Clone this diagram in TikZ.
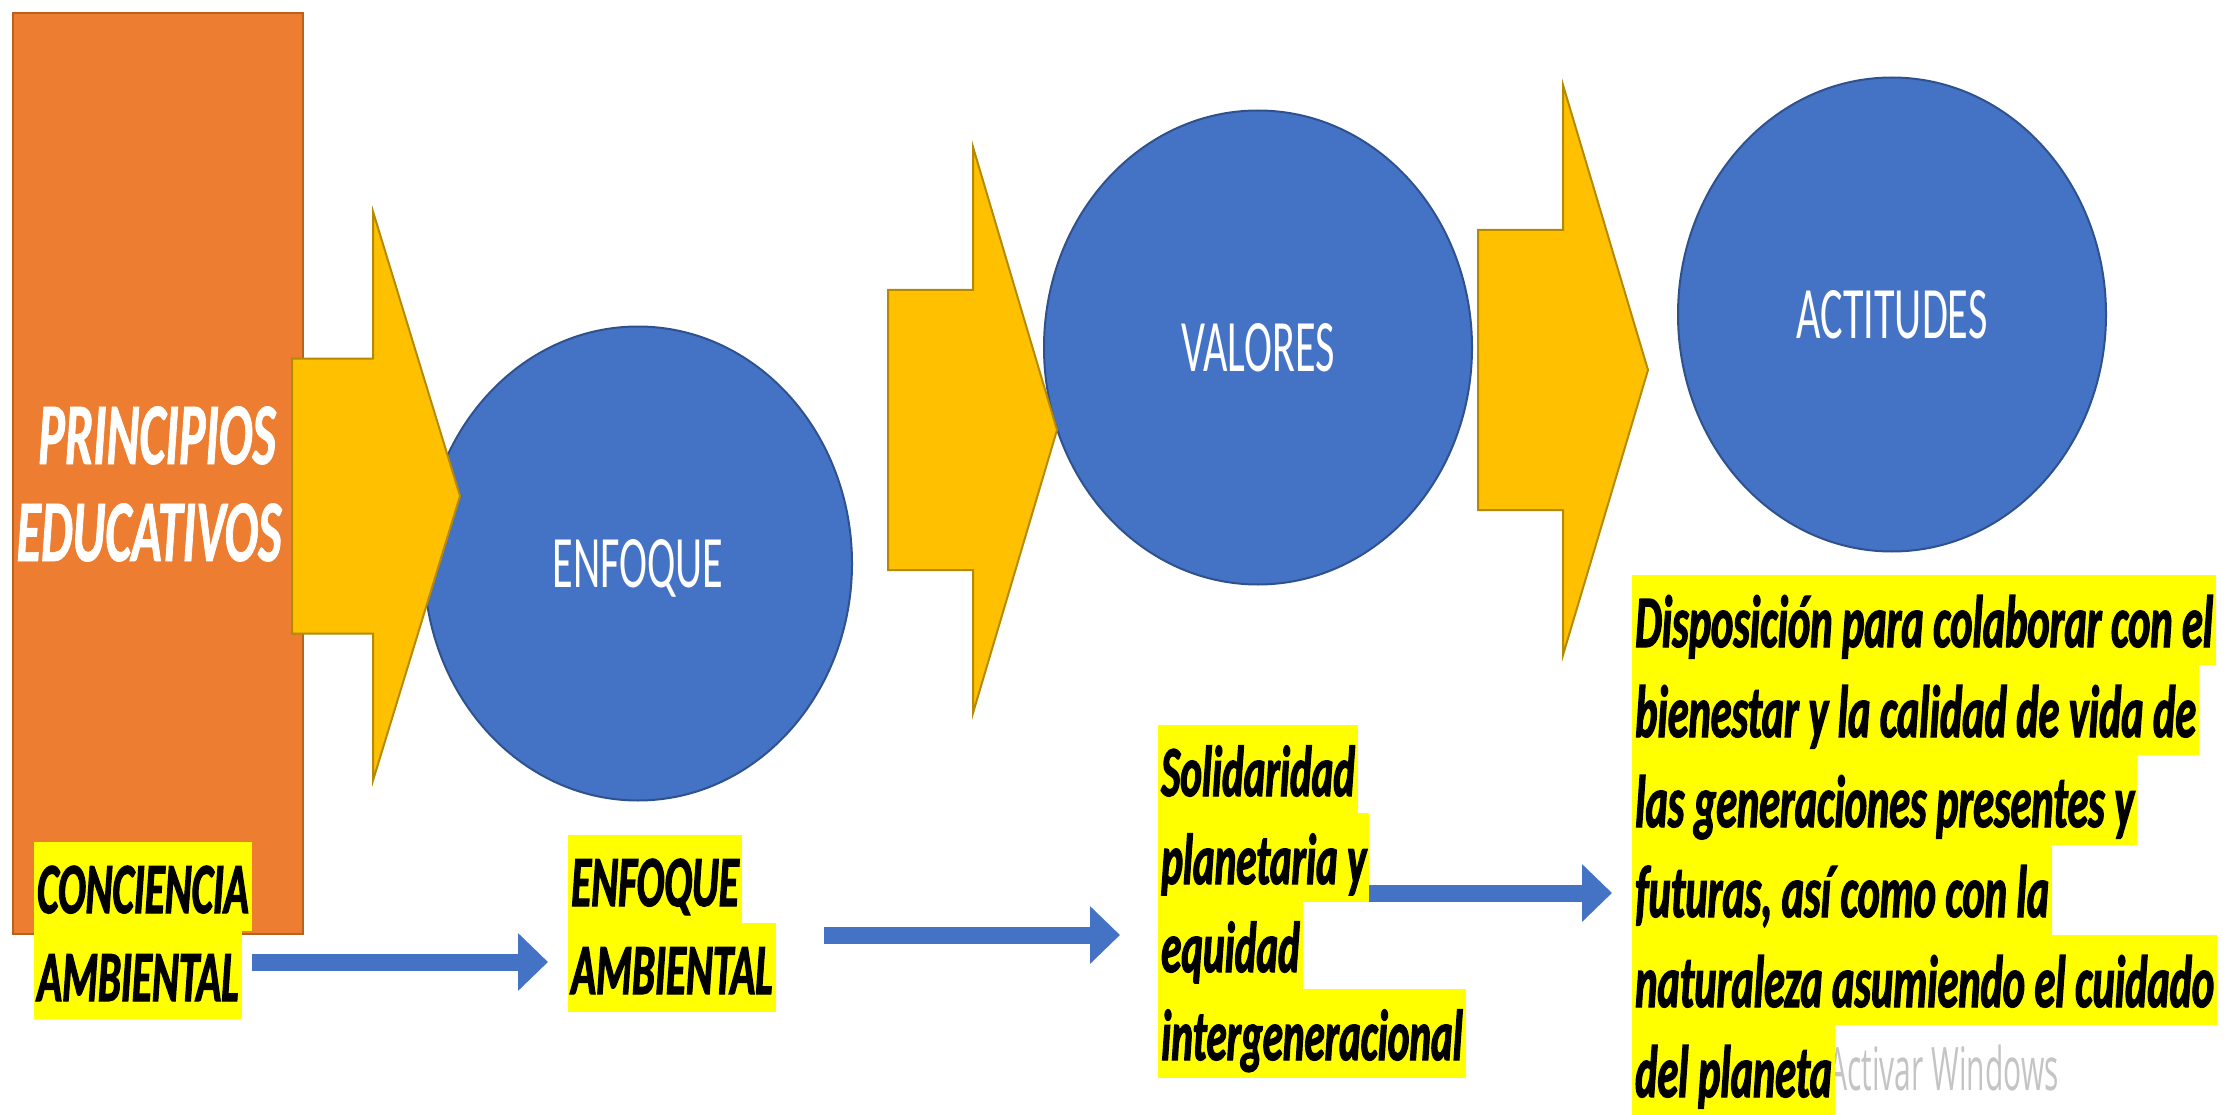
\documentclass[tikz,border=0pt]{standalone}
\usepackage{fontspec}
\setmainfont{Carlito}
\newfontfamily\lblfont[FakeStretch=0.57,FakeBold=1.6]{Carlito}
\newfontfamily\princfont[FakeStretch=0.57,FakeBold=0.8]{Carlito}
\newfontfamily\circfont[FakeStretch=0.57]{Carlito}
\newfontfamily\wmfont[FakeStretch=0.5]{Open Sans}
\usetikzlibrary{shapes.geometric,arrows.meta}
\definecolor{orangefill}{HTML}{ED7D31}
\definecolor{orangeline}{HTML}{B9621F}
\definecolor{goldfill}{HTML}{FFC000}
\definecolor{goldline}{HTML}{B68A00}
\definecolor{bluefill}{HTML}{4472C4}
\definecolor{blueline}{HTML}{2F528F}
\definecolor{hlyellow}{HTML}{FFFF00}
\definecolor{wmgray}{HTML}{C4C4C4}
\newcommand\blockarrow[6]{%
  \draw[bigarrow] (#1,#4-#5) -- (#2,#4-#5) -- (#2,#4-#6) -- (#3,#4) --
    (#2,#4+#6) -- (#2,#4+#5) -- (#1,#4+#5) -- cycle;}
\begin{document}
\begin{tikzpicture}[x=1pt,y=-1pt,
  bigarrow/.style={fill=goldfill,draw=goldline,line width=2pt,line join=miter},
  circ/.style={ellipse,fill=bluefill,draw=blueline,line width=2pt,
    minimum width=428pt,minimum height=474pt,inner sep=0pt,text=white,
    font=\circfont\fontsize{74}{80}\selectfont,text height=48pt,text depth=0pt},
  hl/.style={fill=hlyellow,inner sep=0pt,inner xsep=3pt,text height=71pt,
    text depth=18pt,anchor=base west,
    font=\lblfont\bfseries\itshape\fontsize{72}{88}\selectfont},
  hlbig/.style={hl,text height=72pt,text depth=18pt,
    font=\lblfont\bfseries\itshape\fontsize{74}{90}\selectfont},
  princ/.style={text=white,inner sep=0pt,anchor=base,
    font=\princfont\bfseries\itshape\fontsize{88}{97}\selectfont},
  conn/.style={draw=bluefill,line width=17pt,-{Triangle[length=30pt,width=56pt]}}
]
\fill[white] (0,0) rectangle (2238,1115);
\useasboundingbox (0,0) rectangle (2238,1115);

% orange box
\node[draw=orangeline,fill=orangefill,line width=2pt,minimum width=290pt,
  minimum height=921pt,inner sep=0pt,anchor=north west] (princbox) at (12,12) {};
\node[princ] (princ1) at (157,464) {PRINCIPIOS};
\node[princ] (princ2) at (149,561) {EDUCATIVOS};

% circles
\node[circ] (enf) at (638,563.5) {ENFOQUE};
\node[circ] (val) at (1258,347.5) {VALORES};
\node[circ] (act) at (1892,314.5) {ACTITUDES};

% block arrows
\blockarrow{292}{373}{460}{496}{137.5}{284.5}
\blockarrow{888}{973}{1057}{430}{140}{283}
\blockarrow{1478}{1563}{1648}{370}{140}{285}

% watermark
\node[anchor=base west,inner sep=0pt,text=wmgray,
  font=\wmfont\fontsize{60}{70}\selectfont] (wm) at (1828,1090) {Activar Windows};

% labels
\node[hl] (conc1) at (34,913) {CONCIENCIA};
\node[hl] (conc2) at (34,1001) {AMBIENTAL};
\node[hl] (enfa1) at (568,906) {ENFOQUE};
\node[hl] (enfa2) at (568,994) {AMBIENTAL};
\node[hl] (sol1) at (1158,796) {Solidaridad};
\node[hl] (sol2) at (1158,884) {planetaria y};
\node[hl] (sol3) at (1158,972) {equidad};
\node[hl] (sol4) at (1158,1060) {intergeneracional};
\node[hlbig] (disp1) at (1632,647) {Disposición para colaborar con el};
\node[hlbig] (disp2) at (1632,737) {bienestar y la calidad de vida de};
\node[hlbig] (disp3) at (1632,827) {las generaciones presentes y};
\node[hlbig] (disp4) at (1632,917) {futuras, así como con la};
\node[hlbig] (disp5) at (1632,1007) {naturaleza asumiendo el cuidado};
\node[hlbig] (disp6) at (1632,1097) {del planeta};

% connectors
\draw[conn,shorten >=20pt] (conc2.east |- 0,962) ++(10,0) -- (enfa2.west |- 0,962);
\draw[conn,shorten >=38pt] (enfa2.east |- 0,935) ++(48,0) -- (sol3.west |- 0,935);
\draw[conn,shorten >=20pt] (sol2.east |- 0,893) -- (disp4.west |- 0,893);
\end{tikzpicture}
\end{document}
